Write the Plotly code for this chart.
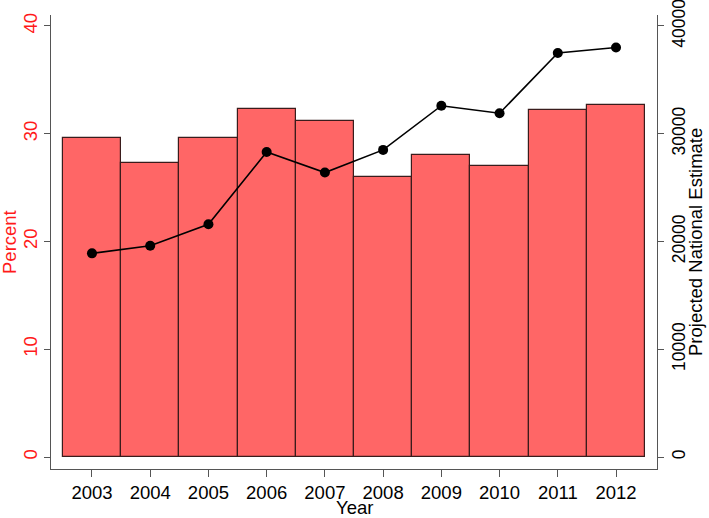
import plotly.graph_objects as go

years = [2003, 2004, 2005, 2006, 2007, 2008, 2009, 2010, 2011, 2012]
percent = [29.6, 27.3, 29.6, 32.3, 31.2, 26.0, 28.0, 27.0, 32.2, 32.7]
estimate = [18900, 19600, 21600, 28300, 26400, 28500, 32600, 31900, 37500, 38000]

left_ticks = [0, 10, 20, 30, 40]
right_ticks = [0, 10000, 20000, 30000, 40000]
grid_ticks = [10, 20, 30]

FONT = "Liberation Sans, Arial, Helvetica, sans-serif"
RED = "#ff1a1a"
AXIS = "#555555"
FS = 18.5

x_range = [2002.296, 2012.704]
y_range = [-1.114, 41.02]
y2_range = [v * 1000 for v in y_range]

fig = go.Figure()

fig.add_trace(go.Bar(
    x=years,
    y=percent,
    width=1,
    marker=dict(color="#ff6666", line=dict(color="#3a1c1c", width=1.2)),
    yaxis="y",
    showlegend=False,
))
fig.add_trace(go.Scatter(
    x=years,
    y=estimate,
    mode="lines+markers",
    line=dict(color="black", width=1.6),
    marker=dict(color="black", size=10),
    yaxis="y2",
    showlegend=False,
))

fig.update_layout(
    width=709,
    height=518,
    margin=dict(l=51, r=52, t=15, b=49),
    paper_bgcolor="white",
    plot_bgcolor="white",
    font=dict(family=FONT, size=FS, color="black"),
    bargap=0,
    xaxis=dict(
        range=x_range,
        tickvals=years,
        ticks="outside",
        ticklen=7,
        tickcolor=AXIS,
        showline=True,
        linecolor=AXIS,
        showgrid=False,
        zeroline=False,
        tickfont=dict(size=FS),
        automargin=False,
    ),
    yaxis=dict(
        range=y_range,
        tickvals=left_ticks,
        tickangle=-90,
        ticks="outside",
        ticklen=6,
        tickcolor=AXIS,
        showline=True,
        linecolor=AXIS,
        showgrid=False,
        zeroline=False,
        ticklabeloverflow="allow",
        tickfont=dict(color=RED, size=FS),
        automargin=False,
    ),
    yaxis2=dict(
        range=y2_range,
        tickvals=right_ticks,
        tickformat="d",
        tickangle=-90,
        side="right",
        overlaying="y",
        ticks="outside",
        ticklen=6,
        tickcolor=AXIS,
        showline=True,
        linecolor=AXIS,
        showgrid=False,
        zeroline=False,
        ticklabeloverflow="allow",
        tickfont=dict(size=17.5),
        automargin=False,
    ),
    yaxis3=dict(
        range=y_range,
        tickvals=grid_ticks,
        overlaying="y",
        showticklabels=False,
        showgrid=True,
        gridcolor="#e2ebee",
        gridwidth=1,
        zeroline=False,
        layer="below traces",
    ),
    annotations=[
        dict(text="Percent", xref="paper", yref="paper", x=0, y=0.5,
             xanchor="center", yanchor="middle", xshift=-42, textangle=-90,
             showarrow=False, font=dict(color=RED, size=FS)),
        dict(text="Projected National Estimate", xref="paper", yref="paper",
             x=1, y=0.5, xanchor="center", yanchor="middle", xshift=38,
             textangle=-90, showarrow=False, font=dict(size=FS)),
        dict(text="Year", xref="paper", yref="paper", x=0.5, y=0,
             xanchor="center", yanchor="middle", yshift=-38,
             showarrow=False, font=dict(size=FS)),
    ],
)

# page has an 8px body margin by default; drop it so the figure fills the window
fig.write_html(
    "out.html",
    config={"displayModeBar": False},
    post_script="document.body.style.margin = '0px';",
)
